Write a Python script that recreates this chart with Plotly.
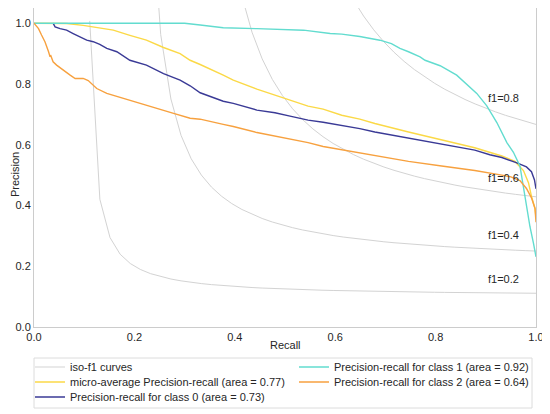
import plotly.graph_objects as go

# ---------------- data ----------------
TICK_VALUES = [0.0, 0.2, 0.4, 0.6, 0.8, 1.0]
TICK_LABELS = ["0.0", "0.2", "0.4", "0.6", "0.8", "1.0"]

F1_LEVELS = [0.2, 0.4, 0.6, 0.8]
F1_LABELS = ["f1=0.2", "f1=0.4", "f1=0.6", "f1=0.8"]

ISO_RECALL = [0.0100, 0.0302, 0.0504, 0.0706, 0.0908, 0.1110, 0.1312, 0.1514, 0.1716, 0.1918,
              0.2120, 0.2322, 0.2524, 0.2727, 0.2929, 0.3131, 0.3333, 0.3535, 0.3737, 0.3939,
              0.4141, 0.4343, 0.4545, 0.4747, 0.4949, 0.5151, 0.5353, 0.5555, 0.5757, 0.5959,
              0.6161, 0.6363, 0.6565, 0.6767, 0.6969, 0.7171, 0.7373, 0.7576, 0.7778, 0.7980,
              0.8182, 0.8384, 0.8586, 0.8788, 0.8990, 0.9192, 0.9394, 0.9596, 0.9798, 1.0000]

ISO_F1_02 = [None] * 5 + [1.0074, 0.4203, 0.2944, 0.2396, 0.2089, 0.1893, 0.1756, 0.1656, 0.1579,
                          0.1519, 0.1469, 0.1429, 0.1395, 0.1365, 0.1340, 0.1318, 0.1299, 0.1282,
                          0.1267, 0.1253, 0.1241, 0.1230, 0.1220, 0.1210, 0.1202, 0.1194, 0.1186,
                          0.1180, 0.1173, 0.1168, 0.1162, 0.1157, 0.1152, 0.1148, 0.1143, 0.1139,
                          0.1135, 0.1132, 0.1128, 0.1125, 0.1122, 0.1119, 0.1116, 0.1114, 0.1111]
ISO_F1_04 = [None] * 10 + [3.522, 1.4405, 0.9627, 0.7506, 0.6308, 0.5538, 0.5002, 0.4606, 0.4303,
                           0.4063, 0.3869, 0.3707, 0.3572, 0.3456, 0.3356, 0.3269, 0.3193, 0.3125,
                           0.3065, 0.3010, 0.2961, 0.2917, 0.2876, 0.2839, 0.2805, 0.2774, 0.2744,
                           0.2717, 0.2692, 0.2669, 0.2647, 0.2627, 0.2607, 0.2589, 0.2572, 0.2556,
                           0.2541, 0.2527, 0.2513, 0.2500]
ISO_F1_06 = [None] * 15 + [7.191, 3.0055, 1.9832, 1.5216, 1.2587, 1.0889, 0.9702, 0.8826, 0.8152,
                           0.7618, 0.7184, 0.6825, 0.6522, 0.6264, 0.6041, 0.5847, 0.5676, 0.5524,
                           0.5389, 0.5267, 0.5158, 0.5058, 0.4967, 0.4884, 0.4807, 0.4737, 0.4672,
                           0.4611, 0.4555, 0.4503, 0.4454, 0.4408, 0.4365, 0.4324, 0.4286]
ISO_F1_08 = [None] * 20 + [11.762, 5.0667, 3.3363, 2.5421, 2.0860, 1.7901, 1.5825, 1.4289, 1.3106,
                           1.2167, 1.1403, 1.0770, 1.0237, 0.9782, 0.9388, 0.9045, 0.8743, 0.8475,
                           0.8236, 0.8021, 0.7826, 0.7650, 0.7489, 0.7342, 0.7207, 0.7082, 0.6966,
                           0.6859, 0.6760, 0.6667]
F1_LABEL_RECALL = 0.9
F1_LABEL_PRECISION = [0.1322, 0.2756, 0.4654, 0.7282]

MICRO_RECALL = [0.0, 0.065, 0.098, 0.131, 0.158, 0.191, 0.224, 0.258, 0.291, 0.311, 0.331, 0.377,
                0.397, 0.444, 0.480, 0.510, 0.546, 0.576, 0.613, 0.649, 0.679, 0.746, 0.812, 0.878,
                0.932, 0.958, 0.975, 0.985, 0.991, 0.998, 1.0]
MICRO_PRECISION = [1.0, 0.999, 0.993, 0.984, 0.977, 0.960, 0.944, 0.920, 0.900, 0.878, 0.864, 0.829,
                   0.8125, 0.783, 0.763, 0.747, 0.727, 0.717, 0.697, 0.684, 0.670, 0.642, 0.617, 0.590,
                   0.563, 0.545, 0.515, 0.475, 0.430, 0.390, 0.360]

C0_RECALL = [0.038, 0.042, 0.052, 0.065, 0.078, 0.092, 0.105, 0.118, 0.131, 0.145, 0.165, 0.191,
             0.224, 0.258, 0.291, 0.311, 0.331, 0.377, 0.397, 0.444, 0.480, 0.510, 0.546, 0.576,
             0.613, 0.649, 0.679, 0.746, 0.812, 0.878, 0.908, 0.932, 0.962, 0.981, 0.991, 0.997, 1.0]
C0_PRECISION = [1.0, 0.988, 0.982, 0.977, 0.966, 0.955, 0.944, 0.939, 0.930, 0.917, 0.906, 0.878,
                0.862, 0.834, 0.8125, 0.794, 0.771, 0.743, 0.736, 0.714, 0.705, 0.694, 0.681, 0.674,
                0.664, 0.653, 0.642, 0.621, 0.602, 0.582, 0.567, 0.558, 0.540, 0.527, 0.511, 0.484, 0.455]

C1_RECALL = [0.0, 0.30, 0.331, 0.377, 0.444, 0.480, 0.537, 0.590, 0.613, 0.649, 0.689, 0.712, 0.729,
             0.746, 0.769, 0.779, 0.809, 0.842, 0.862, 0.882, 0.902, 0.922, 0.942, 0.955, 0.968,
             0.975, 0.981, 0.988, 0.995, 1.0]
C1_PRECISION = [1.0, 1.0, 0.994, 0.985, 0.982, 0.981, 0.977, 0.966, 0.964, 0.956, 0.944, 0.933, 0.917,
                0.906, 0.889, 0.878, 0.860, 0.829, 0.800, 0.769, 0.728, 0.673, 0.607, 0.575, 0.530,
                0.462, 0.396, 0.330, 0.275, 0.231]

C2_RECALL = [0.0, 0.009, 0.015, 0.022, 0.029, 0.032, 0.033, 0.038, 0.045, 0.058, 0.072, 0.082, 0.098,
             0.108, 0.118, 0.125, 0.145, 0.178, 0.211, 0.244, 0.278, 0.311, 0.331, 0.377, 0.397,
             0.444, 0.480, 0.510, 0.546, 0.576, 0.613, 0.649, 0.679, 0.746, 0.812, 0.878, 0.932,
             0.950, 0.968, 0.981, 0.991, 0.998, 1.0]
C2_PRECISION = [1.0, 0.982, 0.961, 0.938, 0.906, 0.889, 0.895, 0.873, 0.862, 0.845, 0.829, 0.818, 0.818,
                0.811, 0.796, 0.785, 0.769, 0.752, 0.736, 0.719, 0.703, 0.687, 0.684, 0.667, 0.660,
                0.640, 0.628, 0.617, 0.607, 0.594, 0.583, 0.574, 0.563, 0.545, 0.530, 0.515, 0.500,
                0.494, 0.482, 0.456, 0.425, 0.390, 0.345]

NAMES = ["iso-f1 curves",
         "micro-average Precision-recall (area = 0.77)",
         "Precision-recall for class 0 (area = 0.73)",
         "Precision-recall for class 1 (area = 0.92)",
         "Precision-recall for class 2 (area = 0.64)"]

# ---------------- style / layout helpers ----------------
FONT = "Liberation Sans, Arial, sans-serif"
TXT = "#262626"
ISO_COLOR = "#d3d3d3"
COLORS = {"micro": "#fbd947", "c0": "#3a3a96", "c1": "#62dccf", "c2": "#f7a13f"}
OFF = 8                      # page body margin of the browser
W, H = 550 - OFF, 414 - OFF  # figure size so it fills the window


def xp(px):
    return min(1.0, max(0.0, (px - OFF) / W))


def yp(py):
    return min(1.0, max(0.0, 1 - (py - OFF) / H))


fig = go.Figure()

iso_curves = [ISO_F1_02, ISO_F1_04, ISO_F1_06, ISO_F1_08]
for i, ys in enumerate(iso_curves):
    fig.add_trace(go.Scatter(x=ISO_RECALL, y=ys, mode="lines", name=NAMES[0],
                             line=dict(color=ISO_COLOR, width=1), showlegend=(i == 0),
                             legend="legend", connectgaps=False, hoverinfo="skip"))

fig.add_trace(go.Scatter(x=MICRO_RECALL, y=MICRO_PRECISION, mode="lines", name=NAMES[1],
                         line=dict(color=COLORS["micro"], width=1.4), legend="legend3"))
fig.add_trace(go.Scatter(x=C0_RECALL, y=C0_PRECISION, mode="lines", name=NAMES[2],
                         line=dict(color=COLORS["c0"], width=1.4), legend="legend4"))
fig.add_trace(go.Scatter(x=C1_RECALL, y=C1_PRECISION, mode="lines", name=NAMES[3],
                         line=dict(color=COLORS["c1"], width=1.4), legend="legend2"))
fig.add_trace(go.Scatter(x=C2_RECALL, y=C2_PRECISION, mode="lines", name=NAMES[4],
                         line=dict(color=COLORS["c2"], width=1.4), legend="legend5"))

for lab, yv in zip(F1_LABELS, F1_LABEL_PRECISION):
    fig.add_annotation(x=F1_LABEL_RECALL, y=yv, xref="x", yref="y", text=lab, showarrow=False,
                       xanchor="left", yanchor="bottom", font=dict(size=11, color=TXT, family=FONT))

# axis titles
fig.add_annotation(x=xp(285), y=yp(345), xref="paper", yref="paper", text="Recall",
                   showarrow=False, xanchor="center", yanchor="middle",
                   font=dict(size=11, color=TXT, family=FONT))
fig.add_annotation(x=xp(15), y=yp(175), xref="paper", yref="paper", text="Precision",
                   showarrow=False, textangle=-90, xanchor="center", yanchor="middle",
                   font=dict(size=11, color=TXT, family=FONT))

# legend frame
fig.add_shape(type="rect", xref="paper", yref="paper", x0=xp(34), x1=xp(532),
              y0=yp(408), y1=yp(358),
              line=dict(color="#dcdcdc", width=1), fillcolor="rgba(255,255,255,0.9)", layer="below")

axis_common = dict(showgrid=False, zeroline=False, showline=True, mirror=True, linecolor="#cccccc",
                   linewidth=1, ticks="", tickvals=TICK_VALUES, ticktext=TICK_LABELS,
                   tickfont=dict(size=11, color=TXT, family=FONT), automargin=False)


def leg(px_left, px_top):
    return dict(x=xp(px_left), y=yp(px_top), xanchor="left", yanchor="top",
                bgcolor="rgba(0,0,0,0)", font=dict(size=11, color=TXT, family=FONT),
                tracegroupgap=0, itemwidth=30)


fig.update_layout(
    width=W, height=H,
    margin=dict(l=0, r=0, t=0, b=0),
    paper_bgcolor="white", plot_bgcolor="white",
    font=dict(family=FONT, size=11, color=TXT),
    xaxis=dict(range=[0, 1], domain=[xp(34), xp(536)], **axis_common),
    yaxis=dict(range=[0, 1.05], domain=[yp(327), yp(8)], **axis_common),
    legend=leg(30, 352.5),
    legend3=leg(30, 367.5),
    legend4=leg(30, 382.5),
    legend2=leg(294, 352.5),
    legend5=leg(294, 367.5),
    showlegend=True,
)

fig.write_html("out.html")
